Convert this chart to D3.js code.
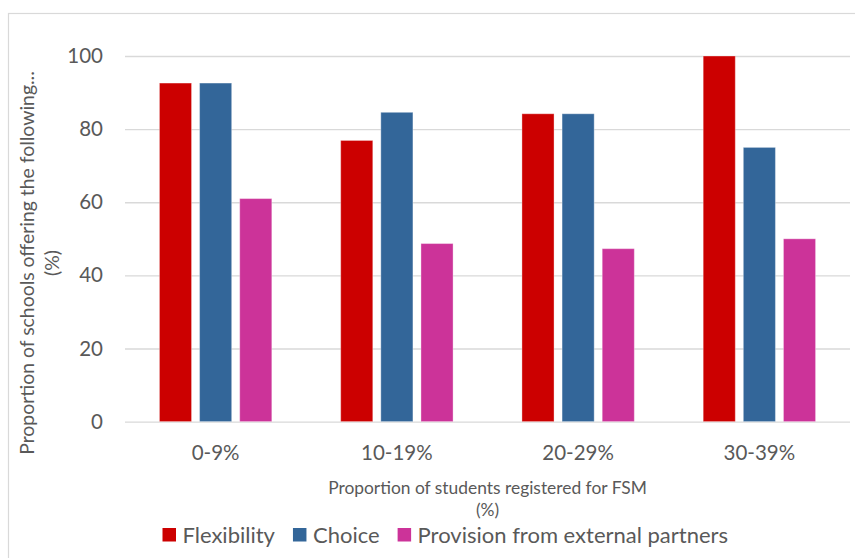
<!DOCTYPE html>
<html>
<head>
<meta charset="utf-8">
<script src="https://cdn.jsdelivr.net/npm/d3@7"></script>
<style>
  html, body { margin: 0; padding: 0; background: #fff; }
  svg { display: block; font-family: Lato, "Open Sans", sans-serif; }
</style>
</head>
<body>
<svg id="chart" width="855" height="558"></svg>
<script>
// FSM bands and the share of schools offering each kind of provision (%)
const categories = ["0-9%", "10-19%", "20-29%", "30-39%"];
const seriesNames = ["Flexibility", "Choice", "Provision from external partners"];
const flexibility = [92.6, 76.9, 84.2, 100];
const choice = [92.6, 84.6, 84.2, 75];
const provision = [61.0, 48.7, 47.3, 50];
const yTicks = [0, 20, 40, 60, 80, 100];
const colors = ["#CC0000", "#336699", "#CC3399"];

const seriesValues = [flexibility, choice, provision];

const svg = d3.select("#chart");
const textColor = "#595959";

// outer chart frame
svg.append("rect")
  .attr("x", 8.5).attr("y", 13.5)
  .attr("width", 860).attr("height", 560)
  .attr("fill", "none").attr("stroke", "#d9d9d9").attr("stroke-width", 1.2);

const plot = { left: 125, right: 850, top: 56, bottom: 421.6 };

const x0 = d3.scaleBand()
  .domain(categories)
  .range([plot.left, plot.right])
  .paddingInner(0.38)
  .paddingOuter(0.19);

const x1 = d3.scaleBand()
  .domain(seriesNames)
  .range([0, x0.bandwidth()])
  .paddingInner(0.2)
  .paddingOuter(0);

const y = d3.scaleLinear().domain([0, 100]).range([plot.bottom, plot.top]);

// horizontal gridlines with value labels
const yAxis = d3.axisLeft(y).tickValues(yTicks).tickSize(-(plot.right - plot.left)).tickPadding(22);
const gy = svg.append("g").attr("transform", `translate(${plot.left},0)`).call(yAxis);
gy.select(".domain").remove();
gy.selectAll(".tick line").attr("stroke", "#d9d9d9").attr("stroke-width", 1.4);
gy.selectAll(".tick text")
  .attr("fill", textColor)
  .style("font-size", "20.5px")
  .style("font-family", "Lato, sans-serif");

// grouped bars
const groups = svg.append("g").selectAll("g")
  .data(categories)
  .join("g")
  .attr("transform", d => `translate(${x0(d)},0)`);

groups.selectAll("rect")
  .data((d, i) => seriesNames.map((s, j) => ({ series: s, value: seriesValues[j][i], color: colors[j] })))
  .join("rect")
  .attr("x", d => x1(d.series))
  .attr("y", d => y(d.value))
  .attr("width", x1.bandwidth())
  .attr("height", d => y(0) - y(d.value))
  .attr("fill", d => d.color)
  .attr("stroke", "#ffffff")
  .attr("stroke-opacity", 0.35)
  .attr("stroke-width", 1);

// category axis labels
const xAxis = d3.axisBottom(x0).tickSize(0).tickPadding(0);
const gx = svg.append("g").attr("transform", `translate(0,${plot.bottom})`).call(xAxis);
gx.select(".domain").remove();
gx.selectAll(".tick text")
  .attr("y", 38.5)
  .attr("dy", 0)
  .attr("fill", textColor)
  .style("font-size", "20.5px")
  .style("font-family", "Lato, sans-serif");

// x axis title
const xTitle = svg.append("text")
  .attr("text-anchor", "middle")
  .attr("fill", textColor)
  .style("font-size", "17.4px");
xTitle.append("tspan").attr("x", 487.5).attr("y", 493.5).text("Proportion of students registered for FSM");
xTitle.append("tspan").attr("x", 487.5).attr("y", 515.5).text("(%)");

// y axis title
const yTitle = svg.append("text")
  .attr("text-anchor", "middle")
  .attr("transform", "translate(0,263) rotate(-90)")
  .attr("fill", textColor)
  .style("font-size", "19.4px");
yTitle.append("tspan").attr("x", 0).attr("y", 33.5).text("Proportion of schools offering the following...");
yTitle.append("tspan").attr("x", 0).attr("y", 59).text("(%)");

// legend
const legend = svg.append("g").attr("transform", "translate(162.5,0)");
let lx = 0;
seriesNames.forEach((name, i) => {
  legend.append("rect")
    .attr("x", lx).attr("y", 528)
    .attr("width", 13.5).attr("height", 13.5)
    .attr("fill", colors[i]);
  const t = legend.append("text")
    .attr("x", lx + 20).attr("y", 542.5)
    .attr("fill", textColor)
    .style("font-size", "22px")
    .text(name);
  lx += 20 + t.node().getComputedTextLength() + 18;
});
</script>
</body>
</html>
